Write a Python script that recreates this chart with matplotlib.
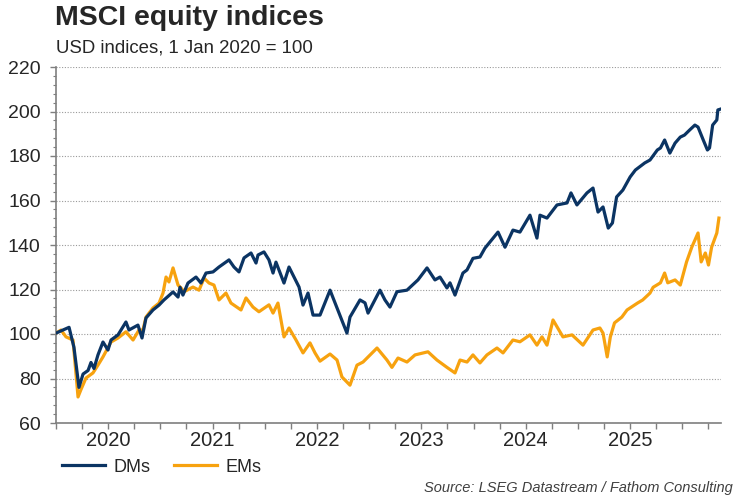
import numpy as np
import matplotlib.pyplot as plt

# ================= DATOS =================
# Fechas como año decimal, índices USD (1 ene 2020 = 100)
DM_FECHAS = [
    2020.000, 2020.067, 2020.125, 2020.172, 2020.220, 2020.259, 2020.307, 2020.335, 2020.364, 2020.402,
    2020.450, 2020.498, 2020.527, 2020.594, 2020.670, 2020.699, 2020.785, 2020.824, 2020.862, 2020.929,
    2020.987, 2021.034, 2021.121, 2021.169, 2021.188, 2021.216, 2021.264, 2021.341, 2021.389, 2021.437,
    2021.504, 2021.561, 2021.657, 2021.705, 2021.753, 2021.801, 2021.868, 2021.916, 2021.935, 2021.992,
    2022.040, 2022.079, 2022.107, 2022.184, 2022.232, 2022.280, 2022.328, 2022.366, 2022.414, 2022.462,
    2022.529, 2022.625, 2022.692, 2022.749, 2022.787, 2022.816, 2022.912, 2022.960, 2022.989, 2023.103,
    2023.151, 2023.199, 2023.266, 2023.362, 2023.467, 2023.554, 2023.630, 2023.678, 2023.745, 2023.774,
    2023.822, 2023.898, 2023.937, 2023.994, 2024.061, 2024.109, 2024.234, 2024.301, 2024.377, 2024.444,
    2024.540, 2024.607, 2024.636, 2024.703, 2024.799, 2024.895, 2024.933, 2024.990, 2025.086, 2025.144,
    2025.192, 2025.24, 2025.29, 2025.33, 2025.37, 2025.43, 2025.50, 2025.55, 2025.64, 2025.69,
    2025.76, 2025.79, 2025.83, 2025.88, 2025.93, 2025.98, 2026.02, 2026.07, 2026.12, 2026.15,
    2026.20, 2026.24, 2026.26, 2026.29, 2026.33, 2026.34, 2026.36,
]
DM_VALORES = [
    100.4, 101.8, 103.0, 94.0, 76.0, 82.0, 83.6, 87.2, 84.5, 90.6,
    96.4, 92.8, 97.3, 99.6, 105.4, 101.8, 104.0, 98.2, 107.2, 110.8,
    113.0, 115.3, 118.9, 116.6, 121.0, 117.5, 122.9, 125.6, 122.9, 127.4,
    127.9, 130.1, 133.3, 130.1, 127.9, 134.2, 136.4, 131.9, 135.5, 136.9,
    133.3, 127.4, 132.3, 122.9, 130.1, 125.6, 121.1, 113.0, 118.4, 108.5,
    108.5, 119.7, 111.7, 104.9, 100.4, 107.6, 115.3, 114.0, 109.4, 119.7,
    115.3, 112.1, 119.0, 119.7, 124.3, 129.7, 124.3, 125.6, 120.7, 123.0,
    117.5, 127.4, 128.8, 134.0, 134.6, 138.6, 145.8, 139.0, 146.7, 145.8,
    153.4, 143.1, 153.4, 152.1, 158.0, 158.9, 163.4, 158.0, 163.4, 165.6,
    154.8, 157.1, 147.6, 149.9, 161.6, 164.7, 170.6, 173.7, 176.9, 178.2,
    182.7, 183.6, 187.2, 181.3, 185.8, 188.5, 189.4, 191.7, 193.9, 193.0,
    187.2, 182.7, 183.6, 193.9, 196.2, 200.7, 201.0,
]

EM_FECHAS = [
    2020.000, 2020.048, 2020.096, 2020.163, 2020.211, 2020.239, 2020.287, 2020.354, 2020.402, 2020.450,
    2020.527, 2020.594, 2020.670, 2020.738, 2020.795, 2020.833, 2020.862, 2020.929, 2020.987, 2021.025,
    2021.054, 2021.082, 2021.121, 2021.169, 2021.197, 2021.226, 2021.312, 2021.370, 2021.418, 2021.466,
    2021.513, 2021.561, 2021.628, 2021.676, 2021.772, 2021.820, 2021.887, 2021.944, 2022.040, 2022.079,
    2022.126, 2022.184, 2022.232, 2022.299, 2022.366, 2022.433, 2022.481, 2022.529, 2022.625, 2022.692,
    2022.739, 2022.816, 2022.883, 2022.941, 2023.075, 2023.170, 2023.218, 2023.276, 2023.362, 2023.439,
    2023.563, 2023.649, 2023.745, 2023.822, 2023.870, 2023.937, 2023.994, 2024.061, 2024.128, 2024.224,
    2024.282, 2024.377, 2024.444, 2024.540, 2024.607, 2024.655, 2024.703, 2024.761, 2024.856, 2024.943,
    2025.048, 2025.144, 2025.21, 2025.24, 2025.28, 2025.31, 2025.35, 2025.42, 2025.47, 2025.57,
    2025.62, 2025.69, 2025.72, 2025.79, 2025.83, 2025.86, 2025.93, 2025.98, 2026.04, 2026.09,
    2026.15, 2026.18, 2026.22, 2026.25, 2026.28, 2026.33, 2026.35,
]
EM_VALORES = [
    100.4, 101.8, 98.7, 97.3, 71.7, 75.0, 80.2, 82.5, 86.0, 89.7,
    96.4, 98.2, 101.0, 97.3, 101.8, 101.8, 107.6, 111.7, 113.9, 118.4,
    125.6, 123.4, 129.7, 122.0, 120.7, 119.0, 121.1, 119.7, 125.1, 122.9,
    122.0, 115.3, 118.4, 113.9, 110.8, 116.2, 112.1, 110.0, 113.1, 109.4,
    113.9, 98.7, 102.7, 97.3, 91.5, 96.0, 91.5, 87.8, 91.0, 88.3,
    80.7, 77.0, 86.0, 87.4, 93.7, 88.3, 85.0, 89.2, 87.4, 90.6,
    92.0, 88.3, 85.0, 82.5, 88.3, 87.4, 90.6, 87.0, 90.6, 93.7,
    91.5, 97.3, 96.5, 99.6, 95.0, 98.7, 95.0, 106.3, 98.7, 99.6,
    95.0, 101.8, 102.7, 100.4, 89.7, 98.7, 105.0, 107.6, 110.8, 113.9,
    115.3, 118.4, 121.0, 123.0, 127.4, 123.0, 124.3, 122.0, 132.4, 139.0,
    145.4, 132.4, 136.4, 131.0, 139.0, 145.4, 152.1,
]

ANIOS = [2020, 2021, 2022, 2023, 2024, 2025]
ETIQUETAS_ANIOS = [str(a) for a in ANIOS]

TITULO = "MSCI equity indices"
SUBTITULO = "USD indices, 1 Jan 2020 = 100"
FUENTE = "Source: LSEG Datastream / Fathom Consulting"

COLOR_DM = "#0b3463"
COLOR_EM = "#f7a20f"
COLOR_TEXTO = "#262626"
COLOR_EJE = "#7f7f7f"
# ==============================================================

plt.rcParams['font.family'] = ['Liberation Sans', 'DejaVu Sans']

fig = plt.figure(figsize=(7.5, 5), dpi=100)
ax = fig.add_axes([56 / 750, 1 - 423 / 500, (721 - 56) / 750, (423 - 67) / 500])

ax.plot(EM_FECHAS, EM_VALORES, color=COLOR_EM, linewidth=2.3, label="EMs", zorder=3)
ax.plot(DM_FECHAS, DM_VALORES, color=COLOR_DM, linewidth=2.3, label="DMs", zorder=4)

# Ejes
ax.set_xlim(2020.0, 2026.37)
ax.set_ylim(60, 220)

ax.set_yticks(np.arange(60, 221, 20))
ax.set_yticks(np.arange(60, 221, 4), minor=True)
ax.yaxis.grid(True, which="major", linestyle=(0, (1, 1.5)), color="#9a9a9a", linewidth=0.8)

# ticks trimestrales sin texto, etiquetas de año a mitad de año
ax.xaxis.remove_overlapping_locs = False
trimestres = np.arange(2020.0, 2026.3, 0.25)
ax.set_xticks(trimestres)
ax.set_xticklabels([])
ax.set_xticks([a + 0.5 for a in ANIOS], minor=True)
ax.set_xticklabels(ETIQUETAS_ANIOS, minor=True)

ax.tick_params(axis="x", which="major", length=4, width=1, color=COLOR_EJE, direction="out")
ax.tick_params(axis="x", which="minor", length=0, pad=6, labelsize=14.5, labelcolor=COLOR_TEXTO)
ax.tick_params(axis="y", which="major", length=4, width=1, color=COLOR_EJE, pad=7,
               labelsize=14, labelcolor=COLOR_TEXTO)
ax.tick_params(axis="y", which="minor", length=2.5, width=0.8, color=COLOR_EJE)

for lado in ["top", "right"]:
    ax.spines[lado].set_visible(False)
for lado in ["left", "bottom"]:
    ax.spines[lado].set_color(COLOR_EJE)
    ax.spines[lado].set_linewidth(1.2)

# Títulos
fig.text(55 / 750, 1 - 18 / 500, TITULO, fontsize=20.5, fontweight="bold",
         color=COLOR_TEXTO, va="center", ha="left")
fig.text(56 / 750, 1 - 48 / 500, SUBTITULO, fontsize=13.4,
         color=COLOR_TEXTO, va="center", ha="left")

# Leyenda
handles, labels = ax.get_legend_handles_labels()
orden = [1, 0]
fig.legend([handles[i] for i in orden], [labels[i] for i in orden],
           loc="center left", bbox_to_anchor=(62 / 750, 1 - 467 / 500), ncol=2,
           frameon=False, fontsize=13, handlelength=2.4, handletextpad=0.45,
           columnspacing=1.3, borderpad=0, borderaxespad=0, labelcolor=COLOR_TEXTO)

# Fuente
fig.text(733 / 750, 1 - 488 / 500, FUENTE, fontsize=10.5, style="italic",
         color="#404040", va="center", ha="right")

fig.savefig("out.png", dpi=100)
plt.close(fig)
